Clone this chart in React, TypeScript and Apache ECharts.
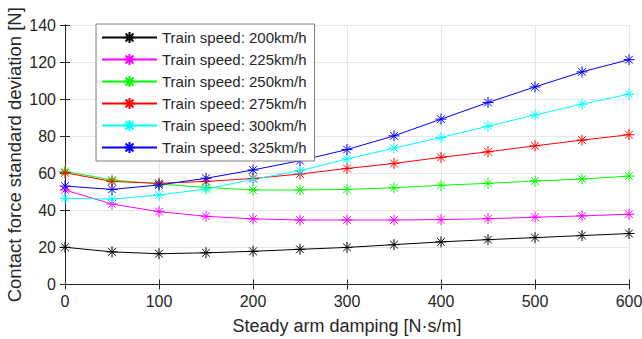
import React, { useEffect, useRef } from "react";
import * as echarts from "echarts";

const damping = [0, 50, 100, 150, 200, 250, 300, 350, 400, 450, 500, 550, 600];
const speedLabels = [
  "Train speed: 200km/h",
  "Train speed: 225km/h",
  "Train speed: 250km/h",
  "Train speed: 275km/h",
  "Train speed: 300km/h",
  "Train speed: 325km/h",
];
const colors = ["#000000", "#ff00ff", "#00ff00", "#ff0000", "#00ffff", "#0000ff"];
const speed200 = [20.1, 17.6, 16.6, 17.1, 17.9, 19.0, 20.0, 21.5, 23.0, 24.2, 25.3, 26.4, 27.5];
const speed225 = [51.0, 43.4, 39.3, 36.8, 35.4, 34.8, 34.8, 34.8, 35.0, 35.5, 36.3, 37.0, 37.9];
const speed250 = [61.0, 56.4, 54.2, 52.4, 51.0, 51.0, 51.3, 52.2, 53.5, 54.6, 55.8, 56.9, 58.5];
const speed275 = [60.3, 55.6, 54.6, 55.6, 57.2, 59.6, 62.6, 65.3, 68.6, 71.6, 74.8, 77.9, 80.8];
const speed300 = [46.5, 46.1, 48.3, 51.5, 56.7, 61.4, 67.7, 73.6, 79.3, 85.4, 91.5, 97.3, 102.7];
const speed325 = [53.1, 51.3, 53.7, 57.3, 61.8, 66.8, 72.8, 80.2, 89.2, 98.2, 106.6, 114.7, 121.3];
const allSeries = [speed200, speed225, speed250, speed275, speed300, speed325];

const FONT = "'Liberation Sans', Arial, Helvetica, sans-serif";
const AXIS = "#262626";
const ASTERISK = "path://M0,5L10,5M5,0L5,10M1.5,1.5L8.5,8.5M8.5,1.5L1.5,8.5";

export default function App() {
  const ref = useRef<HTMLDivElement>(null);
  useEffect(() => {
    if (!ref.current) return;
    const chart = echarts.init(ref.current, null, { renderer: "svg" });
    const hiddenAxis = {
      axisLine: { show: true, lineStyle: { color: AXIS, width: 1 } },
      axisTick: { show: true, inside: true, length: 5, lineStyle: { color: AXIS } },
      axisLabel: { show: false },
      splitLine: { show: false },
    };
    chart.setOption({
      animation: false,
      backgroundColor: "#ffffff",
      textStyle: { fontFamily: FONT },
      grid: {
        left: 65,
        right: 13,
        top: 25,
        bottom: 54.5,
        containLabel: false,
        outerBoundsMode: "none",
      },
      legend: {
        orient: "vertical",
        left: 96,
        top: 24,
        itemWidth: 55,
        itemHeight: 14,
        itemGap: 7,
        padding: [6, 8, 6, 5],
        backgroundColor: "#ffffff",
        borderColor: "#7f7f7f",
        borderWidth: 1,
        borderRadius: 0,
        textStyle: { fontSize: 15, color: AXIS, fontFamily: FONT },
        data: speedLabels,
      },
      xAxis: [
        {
          type: "value",
          min: 0,
          max: 600,
          interval: 100,
          name: "Steady arm damping [N·s/m]",
          nameLocation: "middle",
          nameGap: 32,
          nameMoveOverlap: false,
          nameTextStyle: { fontSize: 18, color: AXIS, fontFamily: FONT },
          axisLine: { show: true, lineStyle: { color: AXIS, width: 1 } },
          axisTick: { show: true, inside: true, length: 5, lineStyle: { color: AXIS } },
          axisLabel: { fontSize: 16, color: AXIS, margin: 9, fontFamily: FONT },
          splitLine: { show: true, lineStyle: { color: "#e6e6e6", width: 1 } },
        },
        { type: "value", min: 0, max: 600, interval: 100, position: "top", ...hiddenAxis },
      ],
      yAxis: [
        {
          type: "value",
          min: 0,
          max: 140,
          interval: 20,
          name: "Contact force standard deviation [N]",
          nameLocation: "middle",
          nameGap: 41,
          nameMoveOverlap: false,
          nameTextStyle: { fontSize: 18.5, color: AXIS, fontFamily: FONT },
          axisLine: { show: true, lineStyle: { color: AXIS, width: 1 } },
          axisTick: { show: true, inside: true, length: 5, lineStyle: { color: AXIS } },
          axisLabel: { fontSize: 16, color: AXIS, margin: 9, fontFamily: FONT },
          splitLine: { show: true, lineStyle: { color: "#e6e6e6", width: 1 } },
        },
        { type: "value", min: 0, max: 140, interval: 20, position: "right", ...hiddenAxis },
      ],
      series: allSeries.map((vals, i) => ({
        name: speedLabels[i],
        type: "line",
        data: damping.map((x, j) => [x, vals[j]]),
        symbol: ASTERISK,
        symbolSize: 11,
        showAllSymbol: true,
        lineStyle: { color: colors[i], width: 1 },
        itemStyle: { color: colors[i], borderColor: colors[i], borderWidth: 1 },
        emphasis: { disabled: true },
      })),
    });
    return () => chart.dispose();
  }, []);
  return (
    <div
      ref={ref}
      style={{ position: "absolute", left: 0, top: 0, width: 642, height: 339 }}
    />
  );
}
